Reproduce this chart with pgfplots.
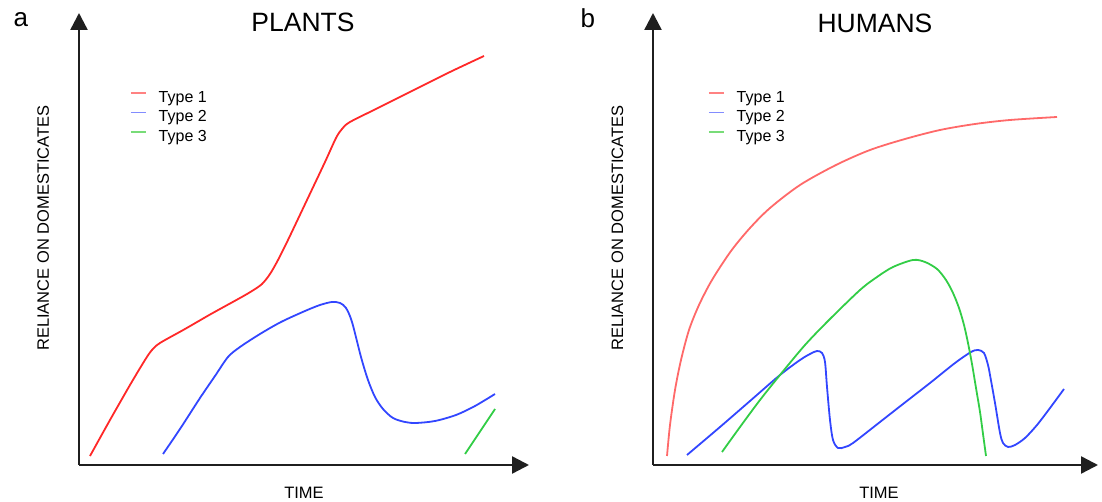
\documentclass[border=0pt]{standalone}
\usepackage{fontspec}
\setmainfont{Liberation Sans}
\usepackage{pgfplots}
\pgfplotsset{compat=1.18}
\usetikzlibrary{arrows.meta}

\definecolor{plantred}{RGB}{255,40,40}
\definecolor{humanred}{RGB}{255,105,105}
\definecolor{typeblue}{RGB}{50,70,255}
\definecolor{typegreen}{RGB}{50,205,70}
\definecolor{lred}{RGB}{255,130,130}
\definecolor{lblue}{RGB}{130,140,255}
\definecolor{lgreen}{RGB}{120,220,120}

\pgfplotsset{
  sketch/.style={
    x=1pt, y=1pt,
    xmin=0, ymin=0, ymax=452,
    axis lines=left,
    axis line style={line width=2.4pt, draw=black!88, -{Triangle[width=17pt,length=17pt]}},
    xtick=\empty, ytick=\empty,
    enlargelimits=false,
    clip=false,
    legend cell align=left,
    legend style={draw=none, fill=none, inner sep=0pt, outer sep=0pt,
      anchor=north west, row sep=4.5pt, column sep=12pt,
      nodes={inner sep=0pt, text height=11.5pt, text depth=3.5pt,
        font=\fontsize{16}{19}\selectfont}},
    legend image code/.code={\draw[#1] (0pt,5pt) -- (15pt,5pt);},
  },
  curve/.style={line width=1.8pt, smooth, tension=0.5, forget plot},
}

\newcommand\lbl{\fontsize{16.5}{20}\selectfont}
\newcommand\ttl{\fontsize{26.5}{30}\selectfont}

\begin{document}
\begin{tikzpicture}
\path[use as bounding box] (-79pt,-37pt) rectangle (1023pt,465pt);

% ---- a: plants
\begin{axis}[sketch, xmax=450,
    legend style={at={(0.1136,0.8285)}}]
  \addplot[curve, plantred] coordinates {
    (11,9) (31,45) (51,80) (66,105) (73,115) (81,122) (106,136) (132,151)
    (161,167) (173,174) (183,181) (191,191) (199,205) (209,225) (228,265)
    (246,303) (257,327) (263,336) (271,343) (301,358) (341,378) (371,393)
    (405,409)};
  \addplot[curve, typeblue] coordinates {
    (84,11) (101,36) (121,67) (136,89) (149,108) (161,118) (181,131) (202,143)
    (226,154) (241,160) (253,163) (261,162) (267,157) (273,143) (282,108)
    (289,85) (296,68) (304,56) (314,47) (326,43) (337,42) (356,44) (377,50)
    (396,59) (416,71)};
  \addplot[curve, typegreen] coordinates {(386,11) (416,56)};
  \addlegendimage{lred, line width=1.6pt}
  \addlegendentry{Type 1}
  \addlegendimage{lblue, line width=1.6pt}
  \addlegendentry{Type 2}
  \addlegendimage{lgreen, line width=1.6pt}
  \addlegendentry{Type 3}
  \node[anchor=base west, font=\fontsize{26}{30}\selectfont] at (axis cs:-69,438) {a};
  \node[anchor=base, font=\ttl] at (axis cs:224,433) {PLANTS};
  \node[anchor=base, rotate=90, font=\lbl] at (axis cs:-30,237) {RELIANCE ON DOMESTICATES};
  \node[anchor=base, font=\lbl] at (axis cs:225,-34) {TIME};
\end{axis}

% ---- b: humans
\begin{axis}[sketch, xmax=445, at={(574pt,0pt)}, anchor=south west,
    legend style={at={(0.1239,0.8285)}}]
  \addplot[curve, humanred] coordinates {
    (14,9) (17,40) (22,75) (28,105) (36,135) (46,160) (59,185) (78,214)
    (97,237) (117,257) (147,280) (183,300) (217,315) (252,326) (287,335)
    (322,341) (357,345) (404,348)};
  \addplot[curve, typeblue] coordinates {
    (34,10) (67,38) (97,64) (127,90) (147,105) (157,111) (164,114) (169,112)
    (172,103) (174,78) (177,45) (180,25) (185,17) (192,18) (200,22) (227,43)
    (250,61) (277,82) (302,102) (318,113) (325,115) (331,112) (335,100)
    (337,90) (342,62) (347,32) (350,22) (355,18) (362,20) (372,27) (384,40)
    (397,57) (411,76)};
  \addplot[curve, typegreen] coordinates {
    (69,13) (87,38) (107,65) (127,90) (152,120) (176,145) (207,175) (224,188)
    (240,198) (260,205) (272,203) (284,196) (293,185) (300,172) (306,157)
    (311,140) (315,122) (319,101) (323,77) (327,53) (330,31) (333,9)};
  \addlegendimage{lred, line width=1.6pt}
  \addlegendentry{Type 1}
  \addlegendimage{lblue, line width=1.6pt}
  \addlegendentry{Type 2}
  \addlegendimage{lgreen, line width=1.6pt}
  \addlegendentry{Type 3}
  \node[anchor=base west, font=\fontsize{26}{30}\selectfont] at (axis cs:-76,437) {b};
  \node[anchor=base, font=\ttl] at (axis cs:222,432) {HUMANS};
  \node[anchor=base, rotate=90, font=\lbl] at (axis cs:-30,237) {RELIANCE ON DOMESTICATES};
  \node[anchor=base, font=\lbl] at (axis cs:226,-34) {TIME};
\end{axis}
\end{tikzpicture}
\end{document}
